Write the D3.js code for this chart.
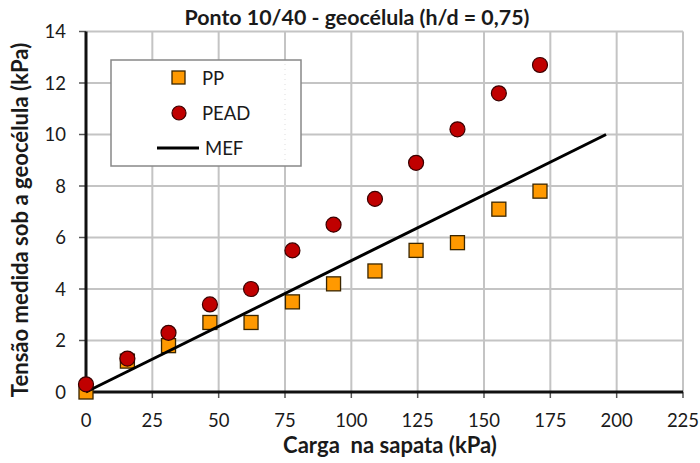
<!DOCTYPE html>
<html>
<head>
<meta charset="utf-8">
<script src="https://cdn.jsdelivr.net/npm/d3@7"></script>
<style>
  body { margin: 0; background: #fff; }
  #chart text { font-family: Lato, "Open Sans", sans-serif; fill: #1a1a1a; }
</style>
</head>
<body>
<div id="chart"></div>
<script>
// Ponto 10/40 - scatter of measured stress vs footing load

const loadKPa = [0, 15.6, 31.1, 46.7, 62.2, 77.8, 93.3, 108.9, 124.4, 140, 155.6, 171.1];
const ppValues = [0, 1.2, 1.8, 2.7, 2.7, 3.5, 4.2, 4.7, 5.5, 5.8, 7.1, 7.8];
const peadValues = [0.3, 1.3, 2.3, 3.4, 4.0, 5.5, 6.5, 7.5, 8.9, 10.2, 11.6, 12.7];
const mefLoad = [0, 196];
const mefValues = [0, 10];
const xTicks = [0, 25, 50, 75, 100, 125, 150, 175, 200, 225];
const yTicks = [0, 2, 4, 6, 8, 10, 12, 14];
const legendLabels = ["PP", "PEAD", "MEF"];

const PP_FILL = "#ff9900";
const PEAD_FILL = "#c00000";

// shrink/grow font so the text takes a given width
function fitWidth(sel, target) {
    const fs = parseFloat(sel.style('font-size'));
    const w = sel.node().getComputedTextLength();
    const size = fs * target / w;
    sel.style('font-size', size + 'px');
    return size;
}

function createChart() {
    const W = 700, H = 463;
    const margin = { top: 31.5, right: 17, bottom: 71, left: 86 };
    const width = W - margin.left - margin.right;
    const height = H - margin.top - margin.bottom;

    const root = d3.select('#chart')
        .append('svg')
        .attr('width', W)
        .attr('height', H);

    const svg = root.append('g')
        .attr('transform', `translate(${margin.left},${margin.top})`);

    const x = d3.scaleLinear().domain([0, 225]).range([0, width]);
    const y = d3.scaleLinear().domain([0, 14]).range([height, 0]);

    // grid lines
    svg.append('g')
        .selectAll('line.vgrid')
        .data(xTicks.slice(1))
        .enter().append('line')
        .attr('x1', d => x(d)).attr('x2', d => x(d))
        .attr('y1', 0).attr('y2', height)
        .style('stroke', '#c4c4c4')
        .style('stroke-width', 2);

    svg.append('g')
        .selectAll('line.hgrid')
        .data(yTicks.slice(1))
        .enter().append('line')
        .attr('x1', 0).attr('x2', width)
        .attr('y1', d => y(d)).attr('y2', d => y(d))
        .style('stroke', '#c4c4c4')
        .style('stroke-width', 2);

    // tick marks
    svg.append('g')
        .selectAll('line')
        .data(yTicks)
        .enter().append('line')
        .attr('x1', -7).attr('x2', 0)
        .attr('y1', d => y(d)).attr('y2', d => y(d))
        .style('stroke', '#555')
        .style('stroke-width', 1.5);

    svg.append('g')
        .selectAll('line')
        .data(xTicks)
        .enter().append('line')
        .attr('x1', d => x(d)).attr('x2', d => x(d))
        .attr('y1', height).attr('y2', height + 6)
        .style('stroke', '#555')
        .style('stroke-width', 1.5);

    // axes lines
    svg.append('line')
        .attr('x1', 0).attr('x2', width)
        .attr('y1', height).attr('y2', height)
        .style('stroke', '#111')
        .style('stroke-width', 3);
    svg.append('line')
        .attr('x1', 0).attr('x2', 0)
        .attr('y1', 0).attr('y2', height)
        .style('stroke', '#111')
        .style('stroke-width', 3);

    // tick labels
    svg.append('g')
        .selectAll('text')
        .data(xTicks)
        .enter().append('text')
        .attr('x', d => x(d))
        .attr('y', height + 35)
        .attr('text-anchor', 'middle')
        .style('font-size', '18.5px')
        .text(d => d);

    svg.append('g')
        .selectAll('text')
        .data(yTicks)
        .enter().append('text')
        .attr('x', -20)
        .attr('y', d => y(d))
        .attr('dy', '0.36em')
        .attr('text-anchor', 'end')
        .style('font-size', '18.5px')
        .text(d => d);

    // PP squares
    const sq = 14;
    svg.append('g')
        .selectAll('rect')
        .data(loadKPa)
        .enter().append('rect')
        .attr('x', d => x(d) - sq / 2)
        .attr('y', (d, i) => y(ppValues[i]) - sq / 2)
        .attr('width', sq)
        .attr('height', sq)
        .style('fill', PP_FILL)
        .style('stroke', '#3a2600')
        .style('stroke-width', 1.3);

    // MEF line
    const line = d3.line()
        .x(d => x(d[0]))
        .y(d => y(d[1]));
    svg.append('path')
        .datum(mefLoad.map((d, i) => [d, mefValues[i]]))
        .attr('d', line)
        .style('fill', 'none')
        .style('stroke', '#000')
        .style('stroke-width', 3);

    // PEAD circles
    svg.append('g')
        .selectAll('circle')
        .data(loadKPa)
        .enter().append('circle')
        .attr('cx', d => x(d))
        .attr('cy', (d, i) => y(peadValues[i]))
        .attr('r', 7.5)
        .style('fill', PEAD_FILL)
        .style('stroke', '#3a0000')
        .style('stroke-width', 1.2);

    // legend
    const legend = root.append('g')
        .attr('transform', 'translate(111,60)');
    legend.append('rect')
        .attr('width', 190)
        .attr('height', 106)
        .style('fill', '#fff')
        .style('stroke', '#888')
        .style('stroke-width', 1.5);
    legend.append('line')
        .attr('x1', 174).attr('x2', 174).attr('y1', 4).attr('y2', 102)
        .style('stroke', '#ddd').style('stroke-dasharray', '1,4');

    legend.append('rect')
        .attr('x', 61).attr('y', 11).attr('width', 13).attr('height', 13)
        .style('fill', PP_FILL).style('stroke', '#3a2600').style('stroke-width', 1.3);
    legend.append('circle')
        .attr('cx', 68).attr('cy', 53).attr('r', 7)
        .style('fill', PEAD_FILL).style('stroke', '#3a0000').style('stroke-width', 1.2);
    legend.append('line')
        .attr('x1', 46).attr('x2', 88).attr('y1', 88).attr('y2', 88)
        .style('stroke', '#000').style('stroke-width', 3);

    legend.selectAll('text.lab')
        .data(legendLabels)
        .enter().append('text')
        .attr('x', (d, i) => i === 2 ? 94 : 91)
        .attr('y', (d, i) => 18 + i * 35)
        .attr('dy', '0.36em')
        .style('font-size', '18.5px')
        .text(d => d);

    // titles
    const title = root.append('text')
        .attr('x', 357)
        .attr('y', 25)
        .attr('text-anchor', 'middle')
        .style('font-size', '17px')
        .style('font-weight', 'bold')
        .text('Ponto 10/40 - geocélula (h/d = 0,75)');
    fitWidth(title, 345);

    const xLabel = root.append('text')
        .attr('x', 390)
        .attr('y', 453)
        .attr('text-anchor', 'middle')
        .style('font-size', '17px')
        .style('font-weight', 'bold')
        .style('white-space', 'pre')
        .text('Carga  na sapata (kPa)');
    const labelSize = fitWidth(xLabel, 214);

    root.append('text')
        .attr('transform', 'translate(28,220) rotate(-90)')
        .attr('text-anchor', 'middle')
        .style('font-size', labelSize + 'px')
        .style('font-weight', 'bold')
        .text('Tensão medida sob a geocélula (kPa)');
}

createChart();
</script>
</body>
</html>
